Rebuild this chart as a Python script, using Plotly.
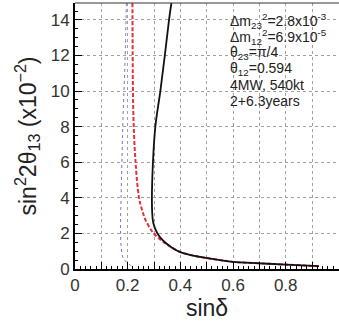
import plotly.graph_objects as go

# Curves: sin(delta) vs sin^2 2theta13 (units of 1e-2)
black_x = [0.366, 0.357, 0.341, 0.324, 0.305, 0.296, 0.292, 0.293, 0.297, 0.311, 0.325, 0.347, 0.370, 0.398, 0.440, 0.474, 0.550, 0.600, 0.700, 0.800, 0.926]
black_y = [14.95, 14.0, 12.0, 10.0, 8.0, 6.0, 4.0, 3.2, 2.6, 2.05, 1.75, 1.43, 1.18, 0.96, 0.78, 0.68, 0.50, 0.40, 0.32, 0.25, 0.16]

red_x = [0.218, 0.219, 0.220, 0.223, 0.230, 0.243, 0.255, 0.268, 0.296, 0.320, 0.347, 0.375, 0.398, 0.440, 0.474, 0.550, 0.600, 0.700, 0.800, 0.930]
red_y = [14.95, 12.0, 10.0, 8.0, 6.0, 4.0, 3.3, 2.75, 2.05, 1.70, 1.40, 1.15, 0.96, 0.78, 0.68, 0.50, 0.40, 0.32, 0.25, 0.15]

blue_x = [0.195, 0.190, 0.182, 0.178, 0.175, 0.173, 0.173, 0.175, 0.181, 0.196, 0.220]
blue_y = [14.95, 11.7, 8.4, 6.0, 4.0, 2.75, 2.0, 1.3, 0.68, 0.38, 0.12]

x_tickvals = [0, 0.1, 0.2, 0.3, 0.4, 0.5, 0.6, 0.7, 0.8, 0.9, 1.0]
x_ticktext = ["0", "", "0.2", "", "0.4", "", "0.6", "", "0.8", "", "1"]
y_tickvals = [0, 2, 4, 6, 8, 10, 12, 14]
y_ticktext = ["0", "2", "4", "6", "8", "10", "12", "14"]

info_lines = [
    "Δm<sub>23</sub><sup>2</sup>=2.8x10<sup>-3</sup>",
    "Δm<sub>12</sub><sup>2</sup>=6.9x10<sup>-5</sup>",
    "θ<sub>23</sub>=π/4",
    "θ<sub>12</sub>=0.594",
    "4MW, 540kt",
    "2+6.3years",
]

FONT = "Liberation Sans, Arial, sans-serif"

fig = go.Figure()
fig.add_trace(go.Scatter(x=blue_x, y=blue_y, mode="lines",
                         line=dict(color="#7474c4", width=1, dash="dot", shape="spline"),
                         showlegend=False))
fig.add_trace(go.Scatter(x=red_x, y=red_y, mode="lines",
                         line=dict(color="#e8303a", width=2, dash="4px,2px", shape="spline"),
                         showlegend=False))
fig.add_trace(go.Scatter(x=black_x, y=black_y, mode="lines",
                         line=dict(color="#111111", width=1.8, shape="spline"),
                         showlegend=False))

y0 = 13.94
dy = 0.9
for i, t in enumerate(info_lines):
    fig.add_annotation(x=0.58, y=y0 - i * dy, xref="x", yref="y", text=t,
                       showarrow=False, xanchor="left", yanchor="middle",
                       font=dict(family=FONT, size=14, color="#222"))

fig.add_shape(type="line", xref="paper", yref="paper", x0=0, x1=1, y0=1, y1=1,
              line=dict(color="#333", width=1))

fig.update_xaxes(range=[0, 1.0023], tickvals=x_tickvals, ticktext=x_ticktext,
                 ticks="inside", ticklen=7, tickcolor="black", tickwidth=1,
                 minor=dict(dtick=0.02, ticks="inside", ticklen=3, tickcolor="black", showgrid=False),
                 showgrid=True, gridcolor="#a0a0a0", griddash="dot", gridwidth=1,
                 showline=True, linecolor="black", linewidth=2, zeroline=False,
                 tickfont=dict(family=FONT, size=17, color="#333"),
                 title=dict(text="sinδ", font=dict(family=FONT, size=23, color="#222"), standoff=2))
fig.update_yaxes(range=[0, 14.95], tickvals=y_tickvals, ticktext=y_ticktext,
                 ticks="inside", ticklen=7, tickcolor="black", tickwidth=1,
                 minor=dict(dtick=0.5, ticks="inside", ticklen=3, tickcolor="black", showgrid=False),
                 showgrid=True, gridcolor="#a0a0a0", griddash="dot", gridwidth=1,
                 showline=True, linecolor="black", linewidth=2, zeroline=False,
                 tickfont=dict(family=FONT, size=17, color="#333"),
                 title=dict(text="sin<sup>2</sup>2θ<sub>13</sub> (x10<sup>−2</sup>)",
                            font=dict(family=FONT, size=23, color="#222"), standoff=8))

fig.update_layout(width=339, height=322, margin=dict(l=75, r=0, t=3, b=53),
                  paper_bgcolor="white", plot_bgcolor="white", showlegend=False)

fig.write_html("out.html", config={"displayModeBar": False},
               post_script="document.body.style.margin='0';document.body.style.padding='0';document.body.style.overflow='hidden';")
